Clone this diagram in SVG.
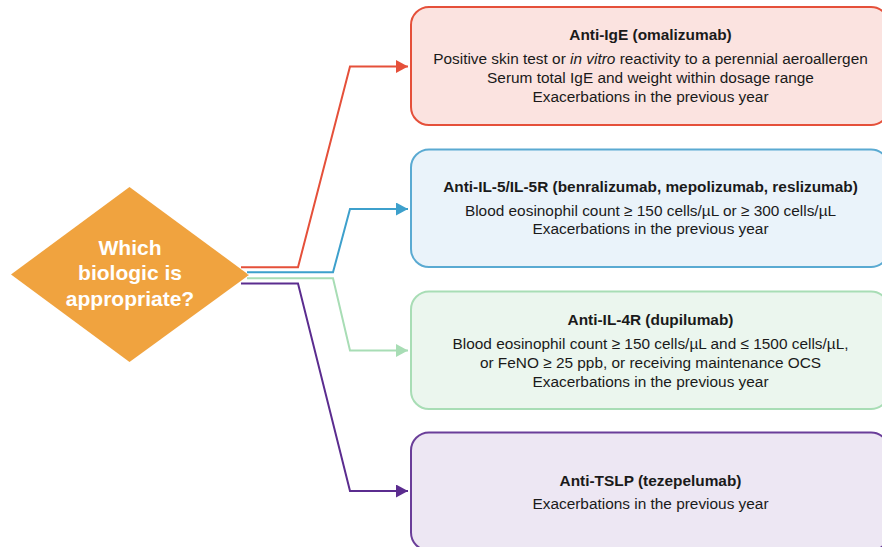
<svg xmlns="http://www.w3.org/2000/svg" width="882" height="547" viewBox="0 0 882 547">
<style>
text{font-family:"Liberation Sans",Arial,sans-serif;text-anchor:middle;fill:#1a1a1a;font-size:15.4px}
.t{font-weight:bold}
.q{font-weight:bold;fill:#fff;font-size:21px}
.halo{fill:none;stroke:#fff;stroke-width:4;stroke-linejoin:miter}
.ln{fill:none;stroke-width:2;stroke-linejoin:miter}
.box{stroke-width:2}
</style>
<defs>
<marker id="aR" markerWidth="12" markerHeight="13" refX="12" refY="6.5" orient="auto" markerUnits="userSpaceOnUse"><path d="M0,0L12,6.5L0,13z" fill="#E5503A"/></marker>
<marker id="aB" markerWidth="12" markerHeight="13" refX="12" refY="6.5" orient="auto" markerUnits="userSpaceOnUse"><path d="M0,0L12,6.5L0,13z" fill="#3DA0CC"/></marker>
<marker id="aG" markerWidth="12" markerHeight="13" refX="12" refY="6.5" orient="auto" markerUnits="userSpaceOnUse"><path d="M0,0L12,6.5L0,13z" fill="#A8DDB5"/></marker>
<marker id="aP" markerWidth="12" markerHeight="13" refX="12" refY="6.5" orient="auto" markerUnits="userSpaceOnUse"><path d="M0,0L12,6.5L0,13z" fill="#5B2C8F"/></marker>
</defs>
<rect width="882" height="547" fill="#fff"/>
<g id="decision">
<polygon points="11,274.5 129.5,187 249,275 129.5,362" fill="#F0A33F"/>
</g>
<g id="connectors">
<path class="halo" d="M241,267.3H298L350,66.5H396"/>
<path class="halo" d="M247,272.3H333L350,209H396"/>
<path class="halo" d="M247,278.3H333L350,350.5H396"/>
<path class="halo" d="M241,283.5H298L350,491H396"/>
<path class="ln" stroke="#E5503A" d="M241,267.3H298L350,66.5H408" marker-end="url(#aR)"/>
<path class="ln" stroke="#3DA0CC" d="M247,272.3H333L350,209H408" marker-end="url(#aB)"/>
<path class="ln" stroke="#A8DDB5" d="M247,278.3H333L350,350.5H408" marker-end="url(#aG)"/>
<path class="ln" stroke="#5B2C8F" d="M241,283.5H298L350,491H408" marker-end="url(#aP)"/>
</g>
<g id="decision-label">
<text class="q" x="130" y="254.5">Which</text>
<text class="q" x="130" y="280">biologic is</text>
<text class="q" x="130" y="305.5">appropriate?</text>
</g>
<g id="anti-ige">
<rect class="box" x="411" y="7" width="478" height="118" rx="18" fill="#FBE3E0" stroke="#E5503A"/>
<text class="t" x="650.5" y="40">Anti-IgE (omalizumab)</text>
<text x="650.5" y="64.3">Positive skin test or <tspan font-style="italic">in vitro</tspan> reactivity to a perennial aeroallergen</text>
<text x="650.5" y="83.3">Serum total IgE and weight within dosage range</text>
<text x="650.5" y="101.7">Exacerbations in the previous year</text>
</g>
<g id="anti-il5">
<rect class="box" x="411" y="149.5" width="478" height="117.5" rx="18" fill="#EAF3FA" stroke="#5AAAD2"/>
<text class="t" x="650.5" y="191.7">Anti-IL-5/IL-5R (benralizumab, mepolizumab, reslizumab)</text>
<text x="650.5" y="215.7">Blood eosinophil count ≥ 150 cells/µL or ≥ 300 cells/µL</text>
<text x="650.5" y="234.3">Exacerbations in the previous year</text>
</g>
<g id="anti-il4r">
<rect class="box" x="411" y="291.5" width="478" height="117.5" rx="18" fill="#EBF6EE" stroke="#A8DDB5"/>
<text class="t" x="650.5" y="325">Anti-IL-4R (dupilumab)</text>
<text x="650.5" y="349.3">Blood eosinophil count ≥ 150 cells/µL and ≤ 1500 cells/µL,</text>
<text x="650.5" y="368.3">or FeNO ≥ 25 ppb, or receiving maintenance OCS</text>
<text x="650.5" y="386.7">Exacerbations in the previous year</text>
</g>
<g id="anti-tslp">
<rect class="box" x="411" y="432.5" width="478" height="118" rx="18" fill="#EDE7F3" stroke="#6A3E99"/>
<text class="t" x="650.5" y="486">Anti-TSLP (tezepelumab)</text>
<text x="650.5" y="509">Exacerbations in the previous year</text>
</g>
</svg>
